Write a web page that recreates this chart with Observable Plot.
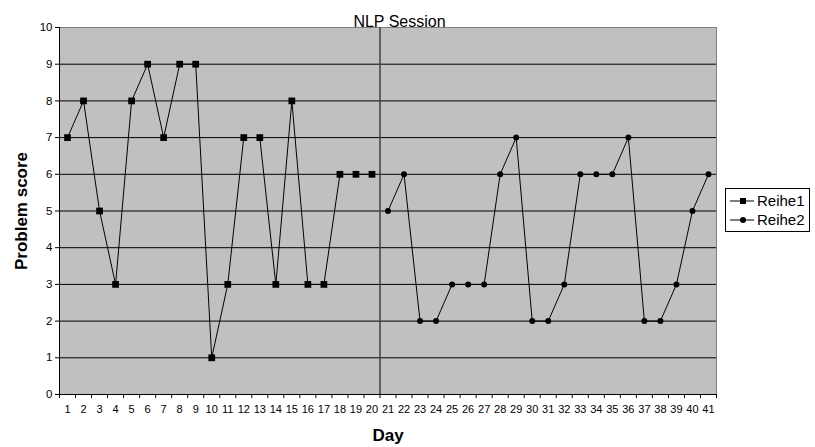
<!DOCTYPE html>
<html>
<head>
<meta charset="utf-8">
<script src="https://cdn.jsdelivr.net/npm/d3@7"></script>
<script src="https://cdn.jsdelivr.net/npm/@observablehq/plot@0.6"></script>
<style>
  body { margin: 0; background: #fff; font-family: "Liberation Sans", Arial, sans-serif; }
  #wrap { position: relative; width: 815px; height: 447px; }
  #chart svg g[aria-label="y-axis label"] text,
  #chart svg g[aria-label="x-axis label"] text { font-weight: bold; font-size: 17px; }
  #chart svg g[aria-label="y-axis tick label"] { font-size: 11.5px; }
  #legend { position: absolute; left: 725px; top: 188px; width: 85px; height: 44px;
            border: 1px solid #000; background: #fff; box-sizing: border-box;
            font-size: 15px; color: #000; }
  #legend .row { position: absolute; left: 3px; height: 18px; line-height: 18px; white-space: nowrap; }
  #legend svg { vertical-align: top; }
</style>
</head>
<body>
<div id="wrap">
  <div id="chart"></div>
  <div id="legend"></div>
</div>
<script>
const title = "NLP Session";
const xLabel = "Day";
const yLabel = "Problem score";
const series1Name = "Reihe1";
const series2Name = "Reihe2";
const days1 = [1,2,3,4,5,6,7,8,9,10,11,12,13,14,15,16,17,18,19,20];
const values1 = [7,8,5,3,8,9,7,9,9,1,3,7,7,3,8,3,3,6,6,6];
const days2 = [21,22,23,24,25,26,27,28,29,30,31,32,33,34,35,36,37,38,39,40,41];
const values2 = [5,6,2,2,3,3,3,6,7,2,2,3,6,6,6,7,2,2,3,5,6];
const yTicks = [0,1,2,3,4,5,6,7,8,9,10];
const phaseBoundary = [20.5];

const s1 = days1.map((d, i) => ({day: d, value: values1[i]}));
const s2 = days2.map((d, i) => ({day: d, value: values2[i]}));
const allDays = days1.concat(days2);
const boundaries = [0.5].concat(allDays.map(d => d + 0.5));

const chart = Plot.plot({
  width: 815,
  height: 447,
  marginLeft: 59,
  marginRight: 99,
  marginTop: 27,
  marginBottom: 53,
  style: { fontFamily: '"Liberation Sans", Arial, sans-serif', fontSize: "11px", color: "#000", background: "#fff" },
  x: { domain: [0.5, 41.5] },
  y: { domain: [0, 10] },
  marks: [
    Plot.frame({ fill: "#c0c0c0", stroke: "#808080" }),
    Plot.gridY(yTicks.filter(t => t > 0 && t < 10), { stroke: "#000", strokeOpacity: 1, strokeWidth: 1 }),
    Plot.ruleX(phaseBoundary, { stroke: "#404040", strokeWidth: 1.5 }),
    Plot.ruleY([0], { stroke: "#000" }),
    Plot.ruleX([0.5], { stroke: "#000" }),
    Plot.axisY({ ticks: yTicks, tickSize: 4, tickPadding: 3, label: yLabel, labelAnchor: "center", labelArrow: "none", labelOffset: 45 }),
    Plot.axisX({ ticks: boundaries, tickSize: 4, tickFormat: () => "", label: null }),
    Plot.axisX({ ticks: allDays, tickSize: 0, tickPadding: 11, tickFormat: d3.format("d"), label: xLabel, labelAnchor: "center", labelArrow: "none", labelOffset: 46 }),
    Plot.line(s1, { x: "day", y: "value", stroke: "#000", strokeWidth: 1 }),
    Plot.line(s2, { x: "day", y: "value", stroke: "#000", strokeWidth: 1 }),
    Plot.dot(s1, { x: "day", y: "value", symbol: "square", r: 3.8, fill: "#000", stroke: "none" }),
    Plot.dot(s2, { x: "day", y: "value", symbol: "circle", r: 3, fill: "#000", stroke: "none" }),
    Plot.text([title], { frameAnchor: "top", dy: -12, dx: 11.5, fontSize: 16, fill: "#000" })
  ]
});
document.getElementById("chart").append(chart);

// legend
const legend = document.getElementById("legend");
[[series1Name, "square", 3], [series2Name, "circle", 22]].forEach(([name, sym, top]) => {
  const row = document.createElement("div");
  row.className = "row";
  row.style.top = top + "px";
  const path = sym === "square"
    ? '<rect x="11" y="6" width="6" height="6" fill="#000"/>'
    : '<circle cx="14" cy="9" r="3" fill="#000"/>';
  row.innerHTML = '<svg width="25" height="18"><line x1="1" y1="9" x2="25" y2="9" stroke="#000"/>' + path + '</svg><span style="margin-left:3px">' + name + '</span>';
  legend.append(row);
});
</script>
</body>
</html>
